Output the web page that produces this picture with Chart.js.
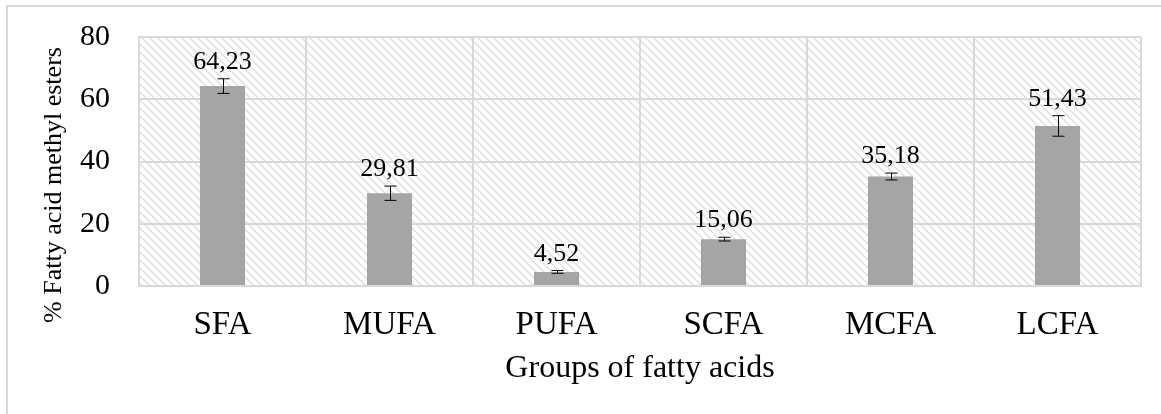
<!DOCTYPE html>
<html>
<head>
<meta charset="utf-8">
<style>
    body { margin: 0; background: #fff; }
    #wrap { position: relative; width: 1161px; height: 414px; overflow: hidden; }
    #frame { position: absolute; left: 6px; top: 5px; width: 1200px; height: 500px; border: 2px solid #d9d9d9; }
    canvas { position: absolute; left: 0; top: 0; }
</style>
</head>
<body>
<div id="wrap">
    <div id="frame"></div>
    <canvas id="myChart" width="1161" height="414"></canvas>
</div>

<script src="https://cdn.jsdelivr.net/npm/chart.js"></script>
<script>
    // data
    var groups = ['SFA', 'MUFA', 'PUFA', 'SCFA', 'MCFA', 'LCFA'];
    var fameValues = [64.23, 29.81, 4.52, 15.06, 35.18, 51.43];
    var fameErrors = [2.35, 2.3, 0.45, 0.6, 1.1, 3.3];
    var yTicks = [0, 20, 40, 60, 80];

    var serif = "'Liberation Serif', 'Times New Roman', serif";
    var gridGray = '#d9d9d9';

    // hatched background of the plot area
    function makeHatch() {
        var c = document.createElement('canvas');
        c.width = 8; c.height = 8;
        var g = c.getContext('2d');
        g.strokeStyle = '#e0e0e0';
        g.lineWidth = 1.5;
        g.beginPath();
        g.moveTo(-1, -1); g.lineTo(9, 9);
        g.moveTo(-1, 7); g.lineTo(1, 9);
        g.moveTo(7, -1); g.lineTo(9, 1);
        g.stroke();
        return g.createPattern(c, 'repeat');
    }

    const hatchBg = {
        id: 'hatchBg',
        beforeDraw(chart) {
            var a = chart.chartArea, ctx = chart.ctx;
            ctx.save();
            ctx.fillStyle = makeHatch();
            ctx.fillRect(a.left, a.top, a.right - a.left, a.bottom - a.top);
            ctx.restore();
        }
    };

    // error bars + value labels (comma decimals)
    const extras = {
        id: 'extras',
        afterDatasetsDraw(chart) {
            var ctx = chart.ctx;
            var meta = chart.getDatasetMeta(0);
            var y = chart.scales.y;
            ctx.save();
            meta.data.forEach(function (bar, i) {
                var v = fameValues[i], e = fameErrors[i];
                var yt = y.getPixelForValue(v + e);
                var yb = y.getPixelForValue(v - e);
                var x = Math.round(bar.x) + 0.5;
                ctx.strokeStyle = '#000';
                ctx.lineWidth = 1;
                ctx.beginPath();
                ctx.moveTo(x, yt); ctx.lineTo(x, yb);
                ctx.moveTo(x - 6, yt); ctx.lineTo(x + 6, yt);
                ctx.moveTo(x - 6, yb); ctx.lineTo(x + 6, yb);
                ctx.stroke();

                ctx.fillStyle = '#000';
                ctx.font = '26px ' + serif;
                ctx.textAlign = 'center';
                ctx.textBaseline = 'alphabetic';
                ctx.fillText(v.toFixed(2).replace('.', ','), bar.x, yt - 10);
            });
            ctx.restore();
        },
        afterDraw(chart) {
            var ctx = chart.ctx, a = chart.chartArea;
            ctx.save();
            ctx.fillStyle = '#000';
            ctx.textAlign = 'center';
            ctx.textBaseline = 'middle';
            ctx.font = '32px ' + serif;
            ctx.fillText('Groups of fatty acids', (a.left + a.right) / 2, 369);
            ctx.translate(54, 185);
            ctx.rotate(-Math.PI / 2);
            ctx.font = '26px ' + serif;
            ctx.fillText('% Fatty acid methyl esters', 0, 0);
            ctx.restore();
        }
    };

    const ctx = document.getElementById('myChart');

    new Chart(ctx, {
        type: 'bar',
        data: {
            labels: groups,
            datasets: [{
                data: fameValues,
                backgroundColor: '#a5a5a5',
                borderWidth: 0,
                barPercentage: 0.27,
                categoryPercentage: 1
            }]
        },
        options: {
            responsive: false,
            animation: false,
            layout: { padding: { top: 37, right: 20, left: 0, bottom: 0 } },
            plugins: {
                legend: { display: false },
                tooltip: { enabled: false }
            },
            scales: {
                x: {
                    grid: { color: gridGray, lineWidth: 2, drawTicks: false, offset: true },
                    border: { color: gridGray, width: 2 },
                    ticks: { color: '#000', font: { family: serif, size: 33 }, padding: 20 },
                    afterFit: function (s) { s.height = 128; s.paddingLeft = 0; s.paddingRight = 0; }
                },
                y: {
                    min: 0,
                    max: 80,
                    afterBuildTicks: function (s) { s.ticks = yTicks.map(function (v) { return { value: v }; }); },
                    grid: { color: gridGray, lineWidth: 2, drawTicks: false },
                    border: { color: gridGray, width: 2 },
                    ticks: { color: '#000', font: { family: serif, size: 30 }, padding: 29 },
                    afterFit: function (s) { s.width = 139; s.paddingTop = 0; s.paddingBottom = 0; }
                }
            }
        },
        plugins: [hatchBg, extras]
    });
</script>
</body>
</html>
